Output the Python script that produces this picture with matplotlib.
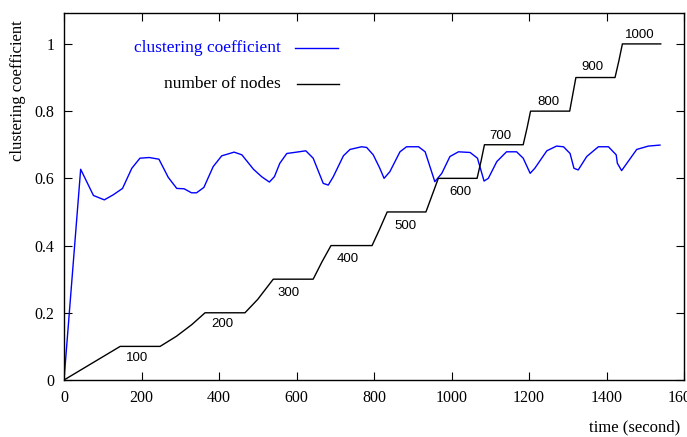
import matplotlib
matplotlib.use('Agg')
import matplotlib.pyplot as plt

# clustering coefficient over time
cc_time = [0, 43, 76, 104, 127, 151, 175, 196, 220, 245, 269, 291, 310, 329, 342, 361,
           385, 407, 439, 459, 489, 510, 530, 543, 557, 575, 600, 624, 643, 669, 682,
           695, 721, 738, 768, 781, 798, 815, 826, 841, 867, 884, 915, 932, 957, 975,
           996, 1018, 1048, 1067, 1084, 1095, 1117, 1142, 1168, 1185, 1203, 1215, 1246,
           1271, 1289, 1306, 1316, 1327, 1349, 1379, 1405, 1425, 1428, 1439, 1478, 1508,
           1538]
cc_value = [0.0, 0.627, 0.549, 0.536, 0.551, 0.570, 0.630, 0.660, 0.662, 0.657, 0.603,
            0.570, 0.569, 0.557, 0.557, 0.573, 0.635, 0.667, 0.678, 0.670, 0.627, 0.605,
            0.589, 0.605, 0.645, 0.674, 0.678, 0.682, 0.660, 0.585, 0.580, 0.605, 0.667,
            0.686, 0.694, 0.692, 0.670, 0.630, 0.600, 0.620, 0.679, 0.694, 0.694, 0.679,
            0.590, 0.615, 0.665, 0.679, 0.677, 0.660, 0.592, 0.600, 0.650, 0.679, 0.679,
            0.660, 0.615, 0.630, 0.682, 0.696, 0.694, 0.674, 0.630, 0.625, 0.665, 0.694,
            0.694, 0.670, 0.645, 0.623, 0.686, 0.696, 0.699]

# number of nodes (divided by 1000)
nodes_time = [0, 145, 248, 290, 330, 364, 467, 500, 540, 643, 665, 689, 795, 815, 834,
              934, 950, 966, 1066, 1076, 1085, 1185, 1195, 1204, 1305, 1313, 1321, 1422,
              1432, 1441, 1540]
nodes_value = [0.0, 0.1, 0.1, 0.13, 0.165, 0.2, 0.2, 0.24, 0.3, 0.3, 0.35, 0.4, 0.4, 0.45,
               0.5, 0.5, 0.55, 0.6, 0.6, 0.65, 0.7, 0.7, 0.75, 0.8, 0.8, 0.85, 0.9, 0.9,
               0.95, 1.0, 1.0]

# step labels
label_text = ['100', '200', '300', '400', '500', '600', '700', '800', '900', '1000']
label_x = [188, 408, 580, 733, 880, 1022, 1125, 1249, 1363, 1486]
label_y = [0.065, 0.167, 0.26, 0.36, 0.458, 0.56, 0.726, 0.827, 0.93, 1.027]

xticks = [0, 200, 400, 600, 800, 1000, 1200, 1400, 1600]
yticks = [0, 0.2, 0.4, 0.6, 0.8, 1]

fig = plt.figure(figsize=(6.87, 4.37), dpi=100)
ax = fig.add_axes([64 / 687, 1 - 380 / 437, 620 / 687, 367 / 437])

ax.plot(cc_time, cc_value, color='#0000ff', lw=1.0)
ax.plot(nodes_time, nodes_value, color='black', lw=1.0)

for t, x, y in zip(label_text, label_x, label_y):
    ax.text(x, y, t, ha='center', va='center', fontsize=9.5, family='Liberation Sans')

ax.set_xlim(0, 1600)
ax.set_ylim(0, 1.092)
ax.set_xticks(xticks)
ax.set_xticklabels([str(v) for v in xticks])
ax.set_yticks(yticks)
ax.set_yticklabels(['0', '0.2', '0.4', '0.6', '0.8', '1'])
ax.tick_params(direction='in', top=True, right=True, length=6, width=0.8,
               labelsize=11.5, pad=7)
for lab in ax.get_xticklabels() + ax.get_yticklabels():
    lab.set_family('Liberation Serif')
for s in ax.spines.values():
    s.set_linewidth(1.0)

# gnuplot-like key
ax.text(0.35, 0.905, 'clustering coefficient', transform=ax.transAxes, ha='right',
        va='center', color='#0000ff', fontsize=12.5, family='Liberation Serif')
ax.plot([0.372, 0.442], [0.905, 0.905], transform=ax.transAxes, color='#0000ff', lw=1.0)
ax.text(0.35, 0.807, 'number of nodes', transform=ax.transAxes, ha='right',
        va='center', color='black', fontsize=12.5, family='Liberation Serif')
ax.plot([0.375, 0.444], [0.807, 0.807], transform=ax.transAxes, color='black', lw=1.0)

fig.text(18 / 687, 1 - 91 / 437, 'clustering coefficient', rotation=90, ha='center',
         va='center', fontsize=12, family='Liberation Serif')
fig.text(635 / 687, 1 - 427 / 437, 'time (second)', ha='center', va='center',
         fontsize=12, family='Liberation Serif')

fig.savefig('out.png', dpi=100)
